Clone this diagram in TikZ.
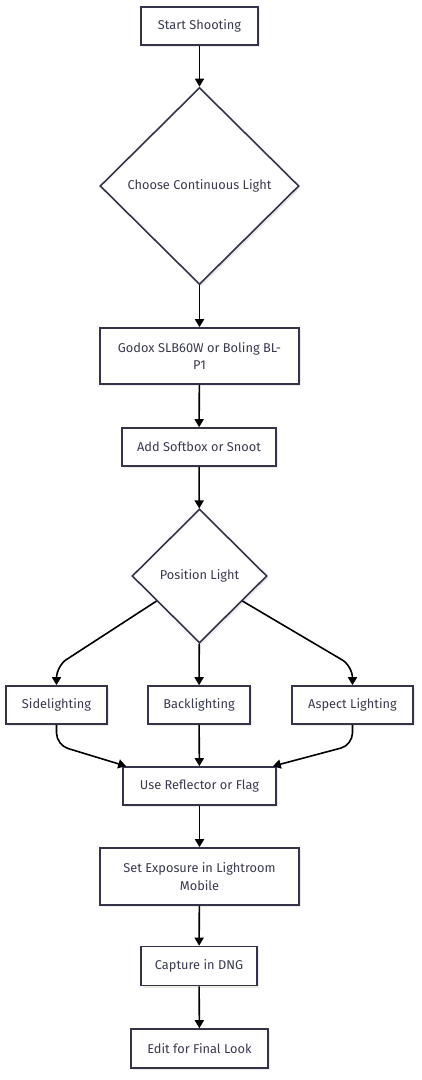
\documentclass[tikz,border=0pt]{standalone}
\usepackage{fontspec}
\setmainfont{Fira Sans}
\usetikzlibrary{shapes.geometric,arrows.meta,calc,shadows}
\definecolor{edge}{HTML}{33334A}
\definecolor{txt}{HTML}{3A3A50}
\tikzset{
  base/.style={draw=edge, line width=1.6pt, fill=white, text=txt, font=\fontsize{12.8}{17.5}\selectfont, align=center,
    drop shadow={shadow xshift=2pt, shadow yshift=-2pt, fill=black, opacity=0.08}},
  box/.style={base, rectangle, inner sep=0pt},
  dia/.style={base, diamond, inner sep=0pt},
  arr/.style={draw=black, line width=1.6pt, -{Triangle[length=8pt,width=9pt]}},
  carr/.style={arr, rounded corners=12pt},
}
\begin{document}
\begin{tikzpicture}[x=1pt,y=-1pt]
\useasboundingbox (0,0) rectangle (422,1080);
\node[box, minimum width=117pt, minimum height=38pt] (start) at (199.5,26) {Start Shooting};
\node[dia, minimum width=199pt, minimum height=197pt] (d1) at (199.5,186) {Choose Continuous Light};
\node[box, minimum width=199pt, minimum height=56pt] (godox) at (199.5,356) {Godox SLB60W or Boling BL-\\P1};
\node[box, minimum width=154pt, minimum height=38pt] (soft) at (199,447) {Add Softbox or Snoot};
\node[dia, minimum width=135pt, minimum height=134pt] (d2) at (199.5,576) {Position Light};
\node[box, minimum width=101pt, minimum height=38pt] (side) at (56.5,705) {Sidelighting};
\node[box, minimum width=102pt, minimum height=38pt] (back) at (199,705) {Backlighting};
\node[box, minimum width=121pt, minimum height=38pt] (asp) at (352.5,705) {Aspect Lighting};
\node[box, minimum width=153pt, minimum height=38pt] (ur) at (199.5,786) {Use Reflector or Flag};
\node[box, minimum width=199pt, minimum height=57pt] (exp) at (199.5,876.5) {Set Exposure in Lightroom\\Mobile};
\node[box, minimum width=116pt, minimum height=39pt] (dng) at (199,966) {Capture in DNG};
\node[box, minimum width=137pt, minimum height=39pt] (edit) at (199.5,1048.5) {Edit for Final Look};

\draw[arr] (start) -- (d1);
\draw[arr] (d1) -- (godox);
\draw[arr] (godox) -- (soft);
\draw[arr] (soft) -- (d2);
\draw[carr] ($(d2.west)!0.37!(d2.south)$) -- (side.north |- 0,666) -- (side.north);
\draw[arr] (d2) -- (back);
\draw[carr] ($(d2.east)!0.37!(d2.south)$) -- (asp.north |- 0,666) -- (asp.north);
\draw[carr] (side.south) -- (side.south |- 0,745) -- ($(ur.north west)+(4,0)$);
\draw[arr] (back) -- (ur);
\draw[carr] (asp.south) -- (asp.south |- 0,745) -- ($(ur.north east)+(-4,0)$);
\draw[arr] (ur) -- (exp);
\draw[arr] (exp) -- (dng);
\draw[arr] (dng) -- (edit);
\end{tikzpicture}
\end{document}
